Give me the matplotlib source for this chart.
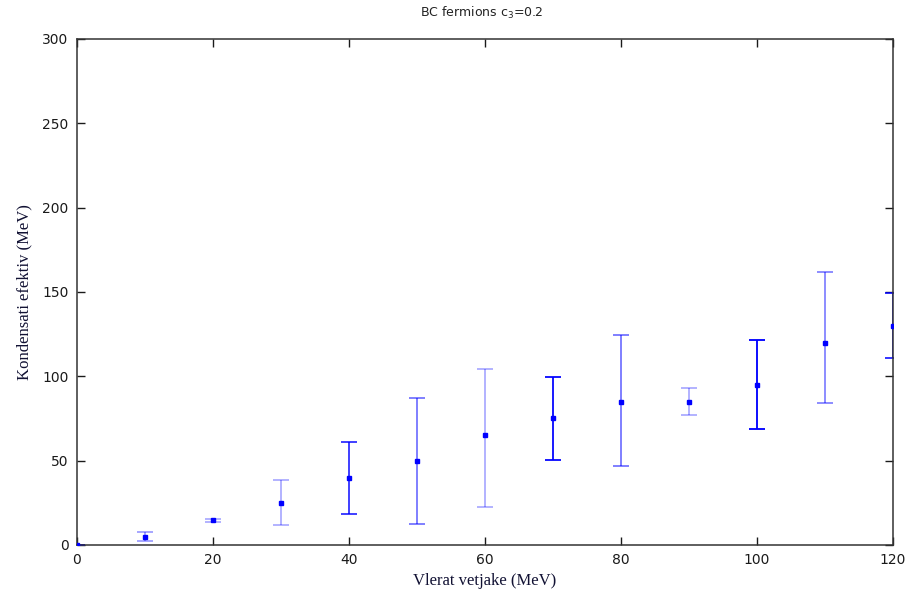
import matplotlib.pyplot as plt
import numpy as np

# vlerat e pikave dhe kufijte e gabimeve
x = np.array([0, 10, 20, 30, 40, 50, 60, 70, 80, 90, 100, 110, 120])
y = np.array([0, 5, 15, 25, 40, 50, 65, 75, 85, 85, 95, 120, 130])
y_top = np.array([0, 7.7, 15.6, 38.5, 61, 87, 104.5, 99.3, 124.5, 93, 121.5, 161.7, 149.5])
y_bot = np.array([0, 2.5, 13.7, 11.7, 18.6, 12.4, 22.3, 50.4, 46.6, 77, 68.8, 84, 110.7])

# intensiteti i ngjyres per secilen vije gabimi
alphas = [1.0, 0.35, 0.3, 0.3, 0.75, 0.5, 0.3, 0.9, 0.5, 0.3, 0.95, 0.45, 0.8]

fig = plt.figure(figsize=(9.22, 5.96), dpi=100)
ax = fig.add_axes([0.0835, 0.0856, 0.885, 0.8490])

for i in range(len(x)):
    ax.errorbar(x[i], y[i],
                yerr=[[y[i] - y_bot[i]], [y_top[i] - y[i]]],
                fmt='none', ecolor='blue', alpha=alphas[i],
                elinewidth=1.4, capsize=6, capthick=1.4)
ax.plot(x, y, 's', color='blue', markersize=3.2, linestyle='none', zorder=5)

ax.set_xlim(0, 120)
ax.set_ylim(0, 300)
ax.set_xticks(np.arange(0, 121, 20))
ax.set_yticks(np.arange(0, 301, 50))
ax.tick_params(direction='in', length=6, width=1, top=True, right=True,
               labelsize=10, colors='#1a1a1a', pad=6)
for s in ax.spines.values():
    s.set_linewidth(1.1)
    s.set_color('#333333')

ax.set_xlabel('Vlerat vetjake (MeV)', family='Liberation Serif', fontsize=12,
              color='#111133', labelpad=4)
ax.set_ylabel('Kondensati efektiv (MeV)', family='Liberation Serif', fontsize=12,
              color='#111133', labelpad=7)
fig.text(0.523, 0.978, r'BC fermions c$_3$=0.2', ha='center', va='center',
         fontsize=9, color='#222222')

fig.savefig('out.png', dpi=100)
